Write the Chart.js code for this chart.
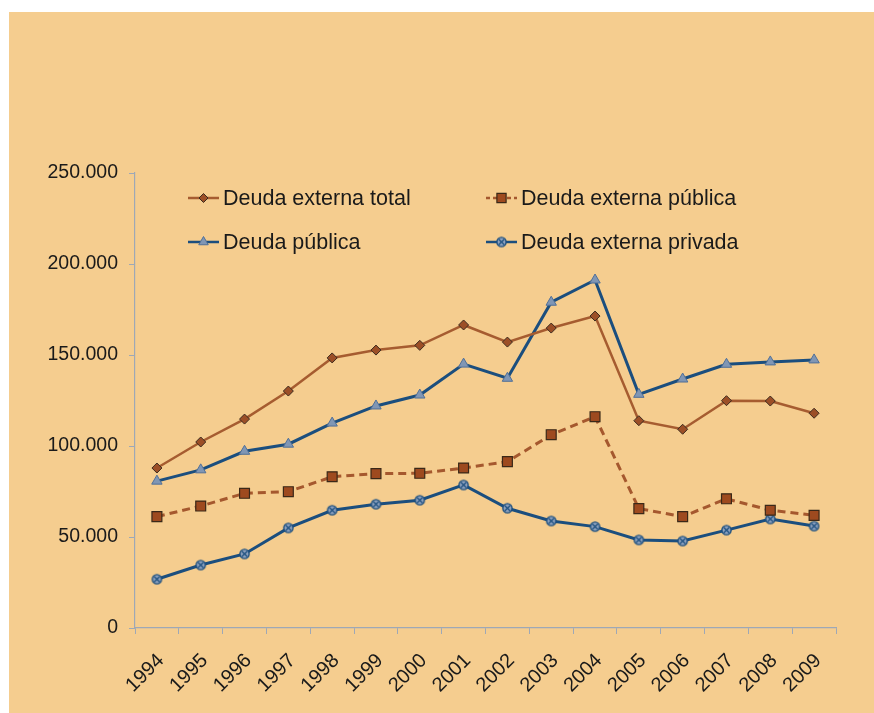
<!DOCTYPE html>
<html>
<head>
<meta charset="utf-8">
<script src="https://cdn.jsdelivr.net/npm/chart.js@4/dist/chart.umd.min.js"></script>
<style>
  html, body { margin: 0; padding: 0; background: #fff; }
  #wrap { position: absolute; left: 9px; top: 12px; width: 865px; height: 701px; background: #F5CD8F; }
</style>
</head>
<body>
<div id="wrap"><canvas id="deuda-chart"></canvas></div>
<script>
// ===== Data =====
const years = ['1994', '1995', '1996', '1997', '1998', '1999', '2000', '2001',
  '2002', '2003', '2004', '2005', '2006', '2007', '2008', '2009'];

const externaTotal   = [87900, 102200, 114800, 130200, 148400, 152700, 155300, 166500,
  157100, 164800, 171400, 113900, 109200, 124900, 124700, 118000];
const externaPublica = [61200, 67000, 74000, 74900, 83100, 84800, 85000, 87900,
  91400, 106200, 116100, 65600, 61200, 71000, 64700, 61900];
const deudaPublica   = [80700, 86900, 97100, 101000, 112600, 122000, 128000, 145000,
  137200, 179000, 191200, 128400, 136800, 144900, 146200, 147300];
const externaPrivada = [26800, 34600, 40700, 55000, 64700, 68000, 70200, 78600,
  65800, 58800, 55700, 48400, 47800, 53800, 59900, 56000];

const yTicks = [0, 50000, 100000, 150000, 200000, 250000];

// ===== Styles =====
const BROWN = '#A65C30';
const BLUE = '#1B4E7E';
const AXIS = '#9EA8B6';
const TEXT = '#1a1a1a';
const FONT = '"Liberation Sans", Arial, sans-serif';

function fmtMiles(v) {
  return String(v).replace(/\B(?=(\d{3})+(?!\d))/g, '.');
}

// circle with an x, used for "Deuda externa privada"
function makeCrossCircle() {
  const c = document.createElement('canvas');
  c.width = 13; c.height = 13;
  const g = c.getContext('2d');
  g.beginPath();
  g.arc(6.5, 6.5, 4.6, 0, Math.PI * 2);
  g.fillStyle = '#8EA1BE';
  g.fill();
  g.lineWidth = 1.4;
  g.strokeStyle = BLUE;
  g.stroke();
  g.beginPath();
  g.moveTo(3.5, 3.5); g.lineTo(9.5, 9.5);
  g.moveTo(9.5, 3.5); g.lineTo(3.5, 9.5);
  g.lineWidth = 1.2;
  g.stroke();
  return c;
}
const crossCircle = makeCrossCircle();

const datasets = [
  {
    label: 'Deuda externa total',
    data: externaTotal,
    borderColor: BROWN,
    borderWidth: 2.5,
    pointStyle: 'rectRot',
    pointRadius: 5,
    pointBackgroundColor: '#9C4F27',
    pointBorderColor: '#3b2a1e',
    pointBorderWidth: 1,
  },
  {
    label: 'Deuda externa pública',
    data: externaPublica,
    borderColor: '#A5582E',
    borderWidth: 3,
    borderDash: [8, 5],
    pointStyle: 'rect',
    pointRadius: 7,
    pointBackgroundColor: '#9E4A1F',
    pointBorderColor: '#3a2818',
    pointBorderWidth: 1.2,
  },
  {
    label: 'Deuda pública',
    data: deudaPublica,
    borderColor: BLUE,
    borderWidth: 3,
    pointStyle: 'triangle',
    pointRadius: 6,
    pointBackgroundColor: '#8096B4',
    pointBorderColor: '#4F6F98',
    pointBorderWidth: 1,
  },
  {
    label: 'Deuda externa privada',
    data: externaPrivada,
    borderColor: BLUE,
    borderWidth: 3,
    pointStyle: crossCircle,
    pointRadius: 5,
  },
];

// legend drawn inside the plot, 2 x 2 (canvas coords)
const legendSlots = [
  { ds: 0, x: 179, y: 186 },
  { ds: 1, x: 477, y: 186 },
  { ds: 2, x: 179, y: 230 },
  { ds: 3, x: 477, y: 230 },
];

const insideLegend = {
  id: 'insideLegend',
  afterDraw(chart) {
    const ctx = chart.ctx;
    ctx.save();
    legendSlots.forEach(s => {
      const ds = chart.data.datasets[s.ds];
      ctx.beginPath();
      ctx.setLineDash(ds.borderDash ? [4, 3] : []);
      ctx.strokeStyle = ds.borderColor;
      ctx.lineWidth = 2.5;
      ctx.moveTo(s.x, s.y);
      ctx.lineTo(s.x + 31, s.y);
      ctx.stroke();
      ctx.setLineDash([]);
      ctx.fillStyle = ds.pointBackgroundColor || '#8EA1BE';
      ctx.strokeStyle = ds.pointBorderColor || BLUE;
      ctx.lineWidth = ds.pointBorderWidth || 1;
      Chart.helpers.drawPoint(ctx, {
        pointStyle: ds.pointStyle,
        radius: ds.pointStyle === 'rect' ? 6.5 : ds.pointStyle === 'rectRot' ? 4.5 : 5.5,
        rotation: 0,
        borderWidth: ds.pointBorderWidth || 1,
      }, s.x + 15.5, s.y);
      ctx.fillStyle = TEXT;
      ctx.font = '21.5px ' + FONT;
      ctx.textBaseline = 'middle';
      ctx.textAlign = 'left';
      ctx.fillText(ds.label, s.x + 35, s.y + 1);
    });
    ctx.restore();
  },
};

new Chart(document.getElementById('deuda-chart'), {
  type: 'line',
  data: { labels: years, datasets },
  options: {
    responsive: true,
    maintainAspectRatio: false,
    animation: false,
    layout: { padding: { top: 161, right: 38, left: 0, bottom: 0 } },
    plugins: {
      legend: { display: false },
      tooltip: { enabled: false },
    },
    scales: {
      x: {
        offset: true,
        grid: { drawOnChartArea: false, color: AXIS, tickLength: 6, offset: true },
        border: { color: AXIS, width: 1.2 },
        ticks: {
          color: TEXT,
          font: { family: FONT, size: 20 },
          minRotation: 45,
          maxRotation: 45,
          padding: 15,
          labelOffset: 4,
          autoSkip: false,
        },
        afterFit: (s) => { s.height = 85; },
      },
      y: {
        min: 0,
        max: 250000,
        afterBuildTicks: (s) => { s.ticks = yTicks.map(v => ({ value: v })); },
        grid: { drawOnChartArea: false, color: AXIS, tickLength: 6 },
        border: { color: AXIS, width: 1.2 },
        ticks: {
          color: TEXT,
          font: { family: FONT, size: 19.5 },
          padding: 11,
          callback: (v) => fmtMiles(v),
        },
        afterFit: (s) => { s.width = 126; },
      },
    },
  },
  plugins: [insideLegend],
});
</script>
</body>
</html>
